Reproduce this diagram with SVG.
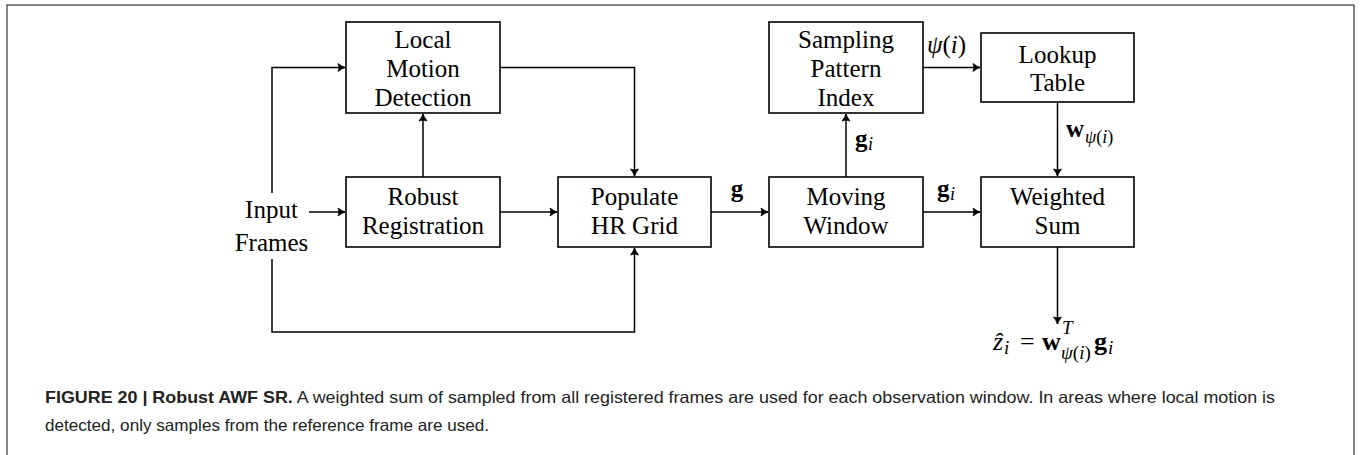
<svg xmlns="http://www.w3.org/2000/svg" width="1362" height="455" viewBox="0 0 1362 455">
<defs>
<marker id="arr" viewBox="-8 -5 10 10" refX="0" refY="0" markerWidth="10" markerHeight="10" markerUnits="userSpaceOnUse" orient="auto">
<path d="M -7 -4 Q -3 -1 0 0 Q -3 1 -7 4 Q -5 0 -7 -4 Z" fill="#000" stroke="#000" stroke-width="0.8" stroke-linejoin="round"/>
</marker>
</defs>
<style>
.box{fill:#fff;stroke:#000;stroke-width:1.6}
.lbl{font-family:"Liberation Serif","DejaVu Serif",serif;font-size:25px;fill:#000;text-anchor:middle}
.m{font-family:"Liberation Serif","DejaVu Serif",serif;font-size:25px;fill:#000}
.f{font-size:26px}
.it{font-style:italic}
.bf{font-weight:bold}
.sub{font-size:18px}
.sub2{font-size:19px}
.con{fill:none;stroke:#000;stroke-width:1.5;marker-end:url(#arr)}
.cap{font-family:"Liberation Sans","Arial",sans-serif;font-size:16.5px;fill:#222}
</style>
<rect x="7" y="5" width="1347" height="460" fill="none" stroke="#333" stroke-width="1.2"/>

<g id="connectors">
<path class="con" d="M309 212 H345"/>
<path class="con" d="M272 193 V67.5 H345"/>
<path class="con" d="M272 259 V332 H634.5 V248"/>
<path class="con" d="M423 177 V114"/>
<path class="con" d="M500 67.5 H634.5 V176"/>
<path class="con" d="M500 212 H557"/>
<path class="con" d="M711 212 H768"/>
<path class="con" d="M923 212 H980"/>
<path class="con" d="M846 177 V114"/>
<path class="con" d="M923 67.5 H980"/>
<path class="con" d="M1057.5 102 V176"/>
<path class="con" d="M1057.5 247 V324"/>
<text class="m bf" x="737" y="197" text-anchor="middle">g</text>
<text class="m bf" x="937" y="197">g</text><text class="m it sub" x="950" y="200">i</text>
<text class="m bf" x="855" y="147">g</text><text class="m it sub" x="868" y="150">i</text>
<text class="m" x="927" y="53"><tspan class="it">ψ</tspan>(<tspan class="it">i</tspan>)</text>
<text class="m bf" x="1066" y="137">w</text>
<text class="m sub" x="1085" y="143"><tspan class="it">ψ</tspan>(<tspan class="it">i</tspan>)</text>
</g>

<g id="formula">
<text class="m f it" x="993" y="350">ẑ</text>
<text class="m it sub2" x="1004" y="354">i</text>
<text class="m f" x="1020" y="350">=</text>
<text class="m f bf" x="1042" y="350">w</text>
<text class="m it sub2" x="1062" y="334">T</text>
<text class="m sub2" x="1061" y="359"><tspan class="it">ψ</tspan>(<tspan class="it">i</tspan>)</text>
<text class="m f bf" x="1094" y="350">g</text>
<text class="m it sub2" x="1108" y="354">i</text>
</g>

<g id="input-frames">
<text class="lbl" x="271.5" y="218">Input</text>
<text class="lbl" x="271.5" y="251">Frames</text>
</g>

<g id="local-motion-detection">
<rect class="box" x="346" y="22" width="154" height="91"/>
<text class="lbl" x="423" y="47.5">Local</text>
<text class="lbl" x="423" y="76.5">Motion</text>
<text class="lbl" x="423" y="105.5">Detection</text>
</g>

<g id="robust-registration">
<rect class="box" x="346" y="177" width="154" height="70"/>
<text class="lbl" x="423" y="205">Robust</text>
<text class="lbl" x="423" y="234">Registration</text>
</g>

<g id="populate-hr-grid">
<rect class="box" x="558" y="177" width="153" height="70"/>
<text class="lbl" x="634.5" y="205">Populate</text>
<text class="lbl" x="634.5" y="234">HR Grid</text>
</g>

<g id="sampling-pattern-index">
<rect class="box" x="769" y="22" width="154" height="91"/>
<text class="lbl" x="846" y="47.5">Sampling</text>
<text class="lbl" x="846" y="76.5">Pattern</text>
<text class="lbl" x="846" y="105.5">Index</text>
</g>

<g id="moving-window">
<rect class="box" x="769" y="177" width="154" height="70"/>
<text class="lbl" x="846" y="205">Moving</text>
<text class="lbl" x="846" y="234">Window</text>
</g>

<g id="lookup-table">
<rect class="box" x="981" y="33" width="153" height="69"/>
<text class="lbl" x="1057.5" y="62.5">Lookup</text>
<text class="lbl" x="1057.5" y="91">Table</text>
</g>

<g id="weighted-sum">
<rect class="box" x="981" y="177" width="153" height="70"/>
<text class="lbl" x="1057.5" y="205">Weighted</text>
<text class="lbl" x="1057.5" y="234">Sum</text>
</g>

<g id="caption">
<text class="cap" x="45" y="403" textLength="1230" lengthAdjust="spacingAndGlyphs"><tspan font-weight="bold">FIGURE 20 | Robust AWF SR.</tspan> A weighted sum of sampled from all registered frames are used for each observation window. In areas where local motion is</text>
<text class="cap" x="45" y="431" textLength="444" lengthAdjust="spacingAndGlyphs">detected, only samples from the reference frame are used.</text>
</g>
</svg>
